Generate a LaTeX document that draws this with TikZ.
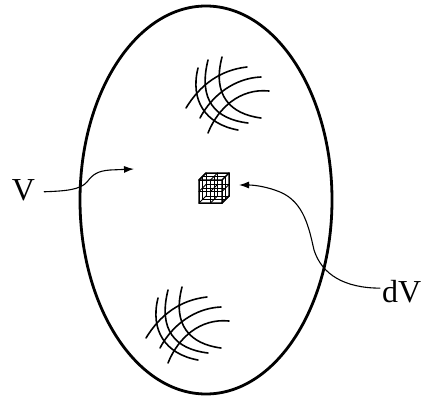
\documentclass[tikz,border=0pt]{standalone}
\usepackage{fontspec}
\setmainfont{Liberation Serif}
\usetikzlibrary{arrows.meta,calc}
\tikzset{
  lab/.style={inner sep=0pt, font=\fontsize{32}{38}\selectfont},
  conn/.style={line width=1.1pt, -{Latex[length=10pt,width=7pt]}},
  hatchline/.style={line width=1.6pt},
  hatchpic/.pic={
    \draw[hatchline] (198,68) .. controls (190,100) and (205,124) .. (238,130);
    \draw[hatchline] (208,60) .. controls (198,100) and (215,119) .. (248,123);
    \draw[hatchline] (222,57) .. controls (212,95) and (230,114) .. (261,118);
    \draw[hatchline] (186,108) .. controls (200,85) and (220,70) .. (247,67);
    \draw[hatchline] (200,118) .. controls (212,95) and (235,78) .. (261,77);
    \draw[hatchline] (208,133) .. controls (218,108) and (240,88) .. (269,91);
  }
}
\begin{document}
\begin{tikzpicture}[x=1pt,y=-1pt,line cap=round,line join=round]
\useasboundingbox (0,0) rectangle (425,399);
% body
\draw[line width=2.8pt] (206,200) ellipse [x radius=126, y radius=194];
% hatching
\pic at (0,0) {hatchpic};
\pic at (-40,230) {hatchpic};
% cube
\begin{scope}[shift={(199,203)}, x={(23pt,0pt)}, y={(0pt,23pt)}, z={(7pt,7pt)}]
  \foreach \a in {0,0.5,1}{
    \foreach \b in {0,0.5,1}{
      \draw[line width=1pt] (0,\a,\b) -- (1,\a,\b);
      \draw[line width=1pt] (\a,0,\b) -- (\a,1,\b);
      \draw[line width=1pt] (\a,\b,0) -- (\a,\b,1);
    }
  }
  \draw[line width=1.5pt] (0,0,0) -- (1,0,0) -- (1,0,1) -- (1,1,1) -- (0,1,1) -- (0,1,0) -- cycle;
  \draw[line width=1.2pt] (0,1,0) -- (1,1,0) -- (1,0,0) (1,1,0) -- (1,1,1);
\end{scope}
% labels
\node[lab, anchor=base] (V) at (23.5,200) {V};
\node[lab, anchor=base west] (dV) at (382,302) {dV};
\coordinate (Vtip) at (134,169);
\coordinate (dVtip) at (239,185);
\draw[conn] ($(V.east)+(9,2)$) .. controls (65,191) and (80,190) .. (87,182)
   .. controls (93,174) and (98,171) .. (110,170) -- (Vtip);
\draw[conn] ($(dV.west)+(-2,-3)$) .. controls (345,288) and (322,275) .. (314,250)
   .. controls (309,228) and (304,202) .. (280,192)
   .. controls (268,187) and (255,185) .. (dVtip);
\end{tikzpicture}
\end{document}
